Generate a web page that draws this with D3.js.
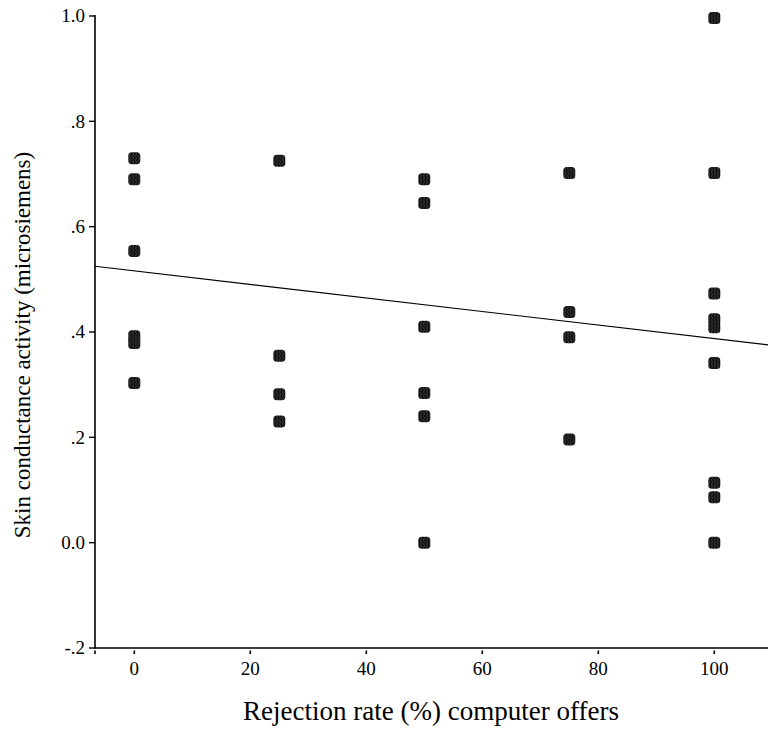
<!DOCTYPE html>
<html>
<head>
<meta charset="utf-8">
<script src="https://cdn.jsdelivr.net/npm/d3@7"></script>
<style>
  html, body { margin: 0; padding: 0; background: #fff; }
  svg { display: block; }
  svg text { font-family: "Liberation Serif", "DejaVu Serif", "Noto Serif", serif; }
</style>
</head>
<body>
<svg id="chart" width="768" height="731"></svg>
<script>
// rejection rate (%) of computer offers, one entry per participant
const rejection = [
  0, 0, 0, 0, 0, 0,
  25, 25, 25, 25,
  50, 50, 50, 50, 50, 50,
  75, 75, 75, 75,
  100, 100, 100, 100, 100, 100, 100, 100, 100
];
// skin conductance activity (microsiemens)
const conductance = [
  0.730, 0.690, 0.554, 0.392, 0.379, 0.303,
  0.725, 0.355, 0.282, 0.230,
  0.690, 0.645, 0.410, 0.284, 0.240, 0.000,
  0.702, 0.438, 0.390, 0.196,
  0.996, 0.702, 0.473, 0.424, 0.409, 0.341, 0.114, 0.086, 0.000
];
const xTicks = [0, 20, 40, 60, 80, 100];
const yTicks = [-0.2, 0, 0.2, 0.4, 0.6, 0.8, 1.0];
const yTickLabels = ["-.2", "0.0", ".2", ".4", ".6", ".8", "1.0"];
// linear fit line as drawn in the original
const fit = { intercept: 0.516, slope: -0.001285 };

const svg = d3.select("#chart");

const x = d3.scaleLinear().domain([0, 100]).range([134.3, 714.3]);
const y = d3.scaleLinear().domain([-0.2, 1.0]).range([648, 16]);

const axisLeft = 95, axisRight = 768;
const xMin = x.invert(axisLeft), xMax = x.invert(axisRight);

// regression line
svg.append("line")
  .attr("x1", x(xMin)).attr("y1", y(fit.intercept + fit.slope * xMin))
  .attr("x2", x(xMax)).attr("y2", y(fit.intercept + fit.slope * xMax))
  .attr("stroke", "#000").attr("stroke-width", 1.1);

// axis lines
svg.append("line")
  .attr("x1", axisLeft).attr("x2", axisLeft)
  .attr("y1", y(1.0) - 1).attr("y2", y(-0.2) + 0.5)
  .attr("stroke", "#000").attr("stroke-width", 1.6);
svg.append("line")
  .attr("x1", axisLeft - 0.8).attr("x2", axisRight)
  .attr("y1", y(-0.2)).attr("y2", y(-0.2))
  .attr("stroke", "#000").attr("stroke-width", 1.6);

// y ticks + labels
const yt = svg.append("g");
yTicks.forEach((v, i) => {
  yt.append("line")
    .attr("x1", axisLeft - 6).attr("x2", axisLeft)
    .attr("y1", y(v)).attr("y2", y(v))
    .attr("stroke", "#000").attr("stroke-width", 1.4);
  yt.append("text")
    .attr("x", axisLeft - 10).attr("y", y(v)).attr("dy", "0.34em")
    .attr("text-anchor", "end")
    .attr("font-size", 19)
    .text(yTickLabels[i]);
});

// x ticks (drawn just under the axis, with a small gap)
const xt = svg.append("g");
[xMin].concat(xTicks).forEach(v => {
  xt.append("line")
    .attr("x1", x(v)).attr("x2", x(v))
    .attr("y1", y(-0.2) + 2.5).attr("y2", y(-0.2) + 6)
    .attr("stroke", "#000").attr("stroke-width", 1.6);
});
xTicks.forEach(v => {
  xt.append("text")
    .attr("x", x(v)).attr("y", 675)
    .attr("text-anchor", "middle")
    .attr("font-size", 19)
    .text(v);
});

// marker texture
const defs = svg.append("defs");
const pat = defs.append("pattern")
  .attr("id", "tex").attr("patternUnits", "userSpaceOnUse")
  .attr("width", 3).attr("height", 4);
pat.append("rect").attr("width", 3).attr("height", 4).attr("fill", "#111");
pat.append("path").attr("d", "M0.5,0 L1.5,2 L0.5,4")
  .attr("fill", "none").attr("stroke", "#555").attr("stroke-width", 0.6);

// points
const pts = rejection.map((r, i) => ({ r, c: conductance[i] }));
svg.append("g").selectAll("rect")
  .data(pts)
  .join("rect")
  .attr("x", d => x(d.r) - 6)
  .attr("y", d => y(d.c) - 6)
  .attr("width", 12).attr("height", 12)
  .attr("rx", 3.5).attr("ry", 3.5)
  .attr("fill", "url(#tex)");

// axis titles
svg.append("text")
  .attr("x", 431).attr("y", 720)
  .attr("text-anchor", "middle")
  .attr("font-size", 27)
  .text("Rejection rate (%) computer offers");

svg.append("text")
  .attr("transform", "translate(30,345) rotate(-90)")
  .attr("text-anchor", "middle")
  .attr("font-size", 23)
  .text("Skin conductance activity (microsiemens)");
</script>
</body>
</html>
